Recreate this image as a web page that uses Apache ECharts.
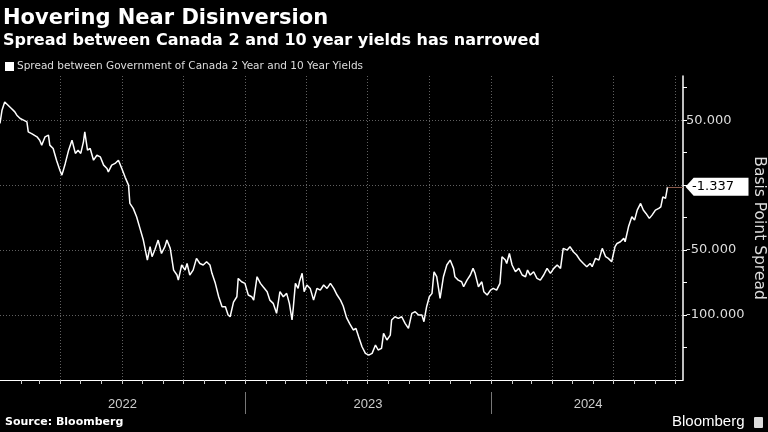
<!DOCTYPE html>
<html>
<head>
<meta charset="utf-8">
<script src="https://cdn.jsdelivr.net/npm/echarts@6/dist/echarts.min.js"></script>
<style>
html,body{margin:0;padding:0;background:#000;}
#c{width:768px;height:432px;}
</style>
</head>
<body>
<div id="c"></div>
<script>
var titleText = 'Hovering Near Disinversion';
var subtitleText = 'Spread between Canada 2 and 10 year yields has narrowed';
var legendName = 'Spread between Government of Canada 2 Year and 10 Year Yields';
var sourceText = 'Source: Bloomberg';
var axisName = 'Basis Point Spread';

var dates = [
'2022-01-01','2022-01-04','2022-01-08','2022-01-13','2022-01-18','2022-01-23','2022-01-26','2022-01-31','2022-02-05','2022-02-10',
'2022-02-12','2022-02-17','2022-02-25','2022-03-01','2022-03-04','2022-03-09','2022-03-14','2022-03-16','2022-03-21','2022-03-26',
'2022-03-31','2022-04-03','2022-04-08','2022-04-13','2022-04-18','2022-04-23','2022-04-27','2022-05-01','2022-05-05','2022-05-07',
'2022-05-11','2022-05-15','2022-05-20','2022-05-25','2022-05-30','2022-06-04','2022-06-09','2022-06-11','2022-06-16','2022-06-21',
'2022-06-26','2022-07-01','2022-07-06','2022-07-11','2022-07-13','2022-07-18','2022-07-23','2022-07-28','2022-08-02','2022-08-05',
'2022-08-08','2022-08-12','2022-08-15','2022-08-19','2022-08-24','2022-08-29','2022-09-03','2022-09-06','2022-09-11','2022-09-16',
'2022-09-21','2022-09-23','2022-09-28','2022-10-03','2022-10-06','2022-10-10','2022-10-15','2022-10-20','2022-10-25','2022-10-30',
'2022-11-04','2022-11-09','2022-11-12','2022-11-17','2022-11-22','2022-11-27','2022-12-02','2022-12-06','2022-12-09','2022-12-14',
'2022-12-19','2022-12-21','2022-12-26','2022-12-31','2023-01-05','2023-01-10','2023-01-13','2023-01-18','2023-01-23','2023-01-27',
'2023-02-02','2023-02-06','2023-02-11','2023-02-16','2023-02-21','2023-02-26','2023-03-03','2023-03-07','2023-03-11','2023-03-13',
'2023-03-16','2023-03-20','2023-03-22','2023-03-26','2023-03-29','2023-04-02','2023-04-07','2023-04-12','2023-04-17','2023-04-22',
'2023-04-27','2023-05-02','2023-05-07','2023-05-12','2023-05-17','2023-05-22','2023-05-26','2023-05-31','2023-06-05','2023-06-10',
'2023-06-14','2023-06-18','2023-06-23','2023-06-28','2023-07-03','2023-07-08','2023-07-13','2023-07-17','2023-07-22','2023-07-25',
'2023-07-30','2023-08-04','2023-08-06','2023-08-11','2023-08-16','2023-08-21','2023-08-26','2023-08-31','2023-09-05','2023-09-10',
'2023-09-15','2023-09-20','2023-09-23','2023-09-27','2023-10-01','2023-10-05','2023-10-08','2023-10-12','2023-10-17','2023-10-22',
'2023-10-27','2023-11-01','2023-11-06','2023-11-08','2023-11-13','2023-11-18','2023-11-21','2023-11-26','2023-12-01','2023-12-05',
'2023-12-08','2023-12-13','2023-12-18','2023-12-21','2023-12-26','2023-12-31','2024-01-04','2024-01-09','2024-01-14','2024-01-17',
'2024-01-22','2024-01-24','2024-01-28','2024-02-01','2024-02-06','2024-02-11','2024-02-16','2024-02-21','2024-02-24','2024-02-28',
'2024-03-04','2024-03-09','2024-03-14','2024-03-19','2024-03-24','2024-03-29','2024-04-03','2024-04-08','2024-04-13','2024-04-17',
'2024-04-23','2024-04-27','2024-05-02','2024-05-07','2024-05-12','2024-05-17','2024-05-22','2024-05-27','2024-05-30','2024-06-04',
'2024-06-09','2024-06-14','2024-06-19','2024-06-23','2024-06-28','2024-07-03','2024-07-06','2024-07-11','2024-07-16','2024-07-18',
'2024-07-23','2024-07-28','2024-08-01','2024-08-05','2024-08-10','2024-08-14','2024-08-18','2024-08-23','2024-08-27','2024-09-01',
'2024-09-06','2024-09-09','2024-09-12','2024-09-16','2024-09-19'
];

var spread = [
47.5,57.7,64,61.5,59,56.4,53.8,51.3,50,48.7,
41,39.7,37.2,34.6,30.8,37.2,38.5,30.8,28.2,19.2,
11.5,7.7,16.7,26.9,34.6,24.4,26.9,24.4,33.3,41,
26.9,28.2,19.2,23,21.8,15.4,12.8,10.2,15.4,16.7,
19.2,12.8,6,0,-14.1,-17.9,-24.4,-33.3,-42.3,-50,
-57.7,-47.4,-55.1,-50,-42.3,-52.6,-47.4,-42.3,-48.7,-65.4,
-69.2,-73.1,-61.5,-65.4,-60.3,-69.2,-65.4,-56.4,-60.3,-61.5,
-59,-61.5,-67.9,-75.6,-85.9,-93.6,-93.6,-100,-101.3,-90,
-85.9,-71.8,-74.4,-75.6,-84.6,-85.9,-88.5,-70.5,-75.6,-78.2,
-82,-88.5,-91,-98.7,-82,-85.9,-83.3,-91,-103.8,-93.6,
-75.6,-79.5,-74.4,-67.9,-82,-76.9,-79.5,-88.5,-79.5,-80.8,
-76.9,-79.5,-75.6,-79.5,-84.6,-88.5,-93,-102,-107,-111.5,
-110.3,-116.7,-124.4,-129.5,-130.8,-129.5,-123.1,-126.9,-125.6,-114.1,
-119.2,-115.4,-103.8,-101.3,-102.6,-101.3,-106.4,-110.3,-98.7,-97.4,
-100,-100,-105.1,-93.6,-85.9,-83.3,-66.7,-70.5,-87.2,-70.5,
-61.5,-57.7,-64.1,-70.5,-73.1,-74.4,-78.2,-73.1,-69.2,-64.1,
-67.9,-78.2,-74.4,-82,-84.6,-80.8,-79.5,-80.8,-75.6,-55.1,
-57.7,-60.3,-52.6,-61.5,-66.7,-64.1,-69.2,-70.5,-65.4,-69.2,
-66.7,-71.8,-73.1,-69.2,-64.1,-67.9,-64.1,-61.5,-64.1,-48.7,
-50,-47.4,-51.3,-53.8,-57.7,-60.3,-62.8,-60.3,-62.8,-56.4,
-57.7,-48.7,-55.1,-56.4,-59,-47.4,-44.9,-43.6,-41,-43.6,
-32.1,-24.4,-26.9,-19.2,-14.1,-19.2,-21.8,-25.6,-23.1,-19.2,
-17.9,-16.7,-9,-10.2,-1.337
];

var yTickValues = [75, 50, 25, 0, -25, -50, -75, -100, -125];
var yLabelValues = [50, -50, -100];
var yGridValues = [50, 0, -50, -100];
var monthTicks = [
'2022-02-01','2022-03-01','2022-04-01','2022-05-01','2022-06-01','2022-07-01','2022-08-01','2022-09-01','2022-10-01','2022-11-01','2022-12-01',
'2023-01-01','2023-02-01','2023-03-01','2023-04-01','2023-05-01','2023-06-01','2023-07-01','2023-08-01','2023-09-01','2023-10-01','2023-11-01','2023-12-01',
'2024-01-01','2024-02-01','2024-03-01','2024-04-01','2024-05-01','2024-06-01','2024-07-01','2024-08-01','2024-09-01','2024-10-01'
];
var quarterLines = ['2022-04-01','2022-07-01','2022-10-01','2023-01-01','2023-04-01','2023-07-01','2023-10-01','2024-01-01','2024-04-01','2024-07-01','2024-10-01'];
var yearBoundaries = ['2023-01-01','2024-01-01'];
var yearLabelPositions = ['2022-07-02','2023-07-02','2024-05-24'];
var yearLabels = ['2022','2023','2024'];
var xMin = '2022-01-01';
var xMax = '2024-10-12';
var yMin = -150;
var yMax = 84;

function ts(d) { return Date.parse(d + 'T00:00:00Z'); }
function tsList(a) { return a.map(ts); }

var lastDate = dates[dates.length - 1];
var lastVal = spread[spread.length - 1];
var labelTs = tsList(yearLabelPositions);

var chart = echarts.init(document.getElementById('c'));
var gridCol = 'rgba(120,120,120,0.8)';
var seriesData = dates.map(function (d, i) { return [ts(d), spread[i]]; });

chart.setOption({
  backgroundColor: '#000',
  animation: false,
  textStyle: { fontFamily: 'DejaVu Sans' },
  title: [
    { text: titleText, left: 3, top: 8, padding: 0, textStyle: { color: '#fff', fontSize: 21, fontWeight: 'bold', fontFamily: 'DejaVu Sans' } },
    { text: subtitleText, left: 3, top: 33, padding: 0, textStyle: { color: '#fff', fontSize: 16, fontWeight: 'bold', fontFamily: 'DejaVu Sans' } },
    { text: sourceText, left: 5, top: 417, padding: 0, textStyle: { color: '#fff', fontSize: 11, fontWeight: 'bold', fontFamily: 'DejaVu Sans' } },
    { text: 'Bloomberg', left: 672, top: 414, padding: 0, textStyle: { color: '#fff', fontSize: 15, fontWeight: 'normal', fontFamily: 'Liberation Sans' } }
  ],
  legend: {
    left: 5, top: 61, padding: 0, itemWidth: 9, itemHeight: 9, itemGap: 3,
    icon: 'rect',
    textStyle: { color: '#ddd', fontSize: 10.5, padding: [0, 0, 0, -2] },
    data: [{ name: legendName, itemStyle: { color: '#fff' } }]
  },
  grid: { left: 0, right: 85, top: 76, bottom: 52, containLabel: false, outerBoundsMode: 'none' },
  xAxis: [
    {
      type: 'value', min: ts(xMin), max: ts(xMax),
      axisLine: { show: true, onZero: false, lineStyle: { color: '#fff', width: 1 } },
      axisTick: { show: true, customValues: tsList(monthTicks), length: 4, lineStyle: { color: '#ccc' } },
      axisLabel: { show: false },
      splitLine: { show: false }
    },
    {
      type: 'value', min: ts(xMin), max: ts(xMax), gridIndex: 0,
      axisLine: { show: false, onZero: false },
      axisTick: { show: false, customValues: tsList(quarterLines) },
      axisLabel: { show: false },
      splitLine: { show: true, lineStyle: { color: gridCol, type: [1, 2], width: 1 } }
    },
    {
      type: 'value', min: ts(xMin), max: ts(xMax), gridIndex: 0, position: 'bottom', offset: 12,
      axisLine: { show: false, onZero: false },
      axisTick: { show: true, customValues: tsList(yearBoundaries), length: 22, lineStyle: { color: '#777' } },
      axisLabel: {
        show: true, customValues: labelTs, color: '#ccc', fontSize: 13, margin: 6,
        fontFamily: 'Liberation Sans',
        formatter: function (v) {
          var i = labelTs.indexOf(v);
          return i >= 0 ? yearLabels[i] : '';
        }
      },
      splitLine: { show: false }
    }
  ],
  yAxis: [
    {
      type: 'value', position: 'right', min: yMin, max: yMax,
      name: axisName, nameLocation: 'middle', nameRotate: -90, nameGap: 68,
      nameMoveOverlap: false,
      nameTextStyle: { color: '#ddd', fontSize: 15.5, fontFamily: 'DejaVu Sans' },
      axisLine: { show: true, onZero: false, lineStyle: { color: '#fff', width: 1.5 } },
      axisTick: { show: true, customValues: yTickValues, length: 4, lineStyle: { color: '#fff' } },
      axisLabel: {
        show: true, customValues: yLabelValues, color: '#ddd', fontSize: 13, margin: 3,
        formatter: function (v) { return v.toFixed(3); }
      },
      splitLine: { show: false }
    },
    {
      type: 'value', position: 'right', min: yMin, max: yMax,
      axisLine: { show: false, onZero: false },
      axisTick: { show: false, customValues: yGridValues },
      axisLabel: { show: false },
      splitLine: { show: true, lineStyle: { color: gridCol, type: [1, 2], width: 1 } }
    }
  ],
  series: [
    {
      name: legendName,
      type: 'line',
      xAxisIndex: 0, yAxisIndex: 0,
      data: seriesData,
      showSymbol: false,
      symbol: 'none',
      clip: false,
      lineStyle: { color: '#fff', width: 1.5 },
      itemStyle: { color: '#fff' },
      markLine: {
        silent: true, symbol: 'none',
        lineStyle: { color: '#8a5a4c', width: 1, type: 'solid' },
        label: { show: false },
        data: [[{ coord: [ts(lastDate), lastVal] }, { coord: [ts(xMax), lastVal] }]]
      },
      markPoint: {
        silent: true,
        symbol: 'path://M0,9 L8,0 L62,0 L62,18 L8,18 Z',
        symbolSize: [63, 18],
        symbolOffset: [34, 0],
        symbolKeepAspect: false,
        itemStyle: { color: '#fff' },
        label: {
          show: true, position: 'inside', color: '#000', fontSize: 13, offset: [-4, 0],
          formatter: function () { return lastVal.toFixed(3); }
        },
        data: [{ coord: [ts(xMax), lastVal] }]
      }
    }
  ],
  graphic: [
    { type: 'rect', left: 754, top: 417, shape: { width: 9, height: 11, r: 1 }, style: { fill: '#ddd' } }
  ]
});
</script>
</body>
</html>
